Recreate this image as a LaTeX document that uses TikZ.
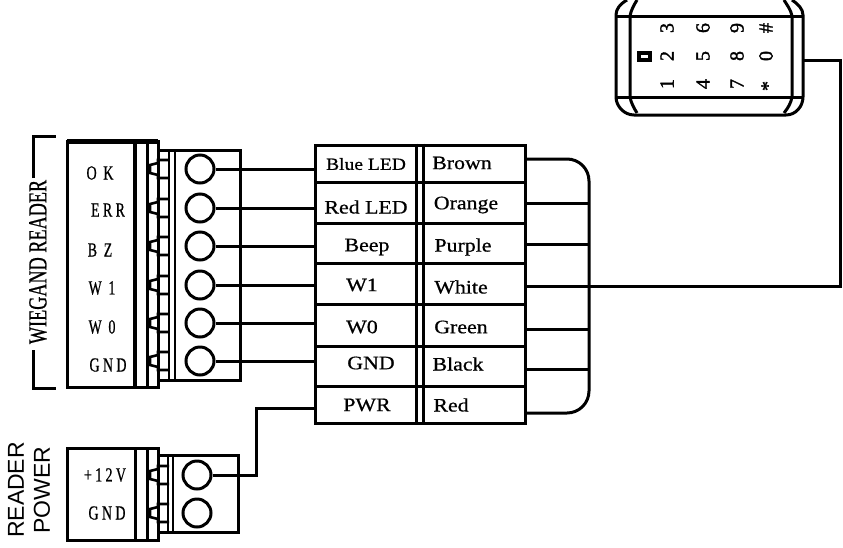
\documentclass[tikz,border=0pt]{standalone}
\usepackage{fontspec}
\setmainfont{Liberation Serif}
\newfontfamily\tablefont[FakeStretch=1.15, FakeBold=0.7]{Liberation Serif}
\newfontfamily\narrowfont[FakeStretch=0.7, FakeBold=0.6]{Liberation Serif}
\newfontfamily\keyfont[FakeBold=1.5]{Liberation Serif}
\newfontfamily\powerfont{Liberation Sans}
\usetikzlibrary{calc}
\tikzset{
	wire/.style={line width=3pt},
	frame/.style={line width=3pt},
	termcircle/.style={circle, draw, line width=3pt, minimum size=28pt, inner sep=0pt},
	celltext/.style={font=\tablefont\fontsize{19}{19}\selectfont, inner sep=0pt},
	pintext/.style={font=\narrowfont\fontsize{20}{20}\selectfont, inner sep=0pt},
	keytext/.style={font=\keyfont\fontsize{20}{20}\selectfont, inner sep=0pt, rotate=90}
}
\def\pintooth(#1){\draw[line width=2.6pt, shift={(0,#1)}] (169, -9) -- (158, -9) -- (158, -6) -- (150, -4) -- (150, 4) -- (158, 6) -- (158, 9) -- (169, 9);}

\begin{document}
\begin{tikzpicture}[x=1pt, y=-1pt]
	%%%%% START %%%%%
	\useasboundingbox (0, 0) rectangle (843, 547);
	\clip (0, 0) rectangle (843, 547);

	% wiegand connector
	\draw[frame] (67, 141) rectangle (158, 387);
	\draw[line width=5pt] (67, 141) -- (158, 141);
	\draw[line width=4.5pt] (135, 141) -- (135, 387);
	\draw[frame] (147, 141) -- (147, 387);
	\draw[frame] (158, 150) -- (240, 150) -- (240, 380) -- (158, 380);
	\draw[line width=2.5pt] (169, 150) -- (169, 380);
	\draw[line width=2.5pt] (175, 150) -- (175, 380);
	\pintooth(169) \pintooth(208) \pintooth(246) \pintooth(285) \pintooth(323) \pintooth(361)

	\node[termcircle, fill=white] (okpin) at (200, 169) {};
	\node[termcircle, fill=white] (errpin) at (200, 208) {};
	\node[termcircle, fill=white] (bzpin) at (200, 246) {};
	\node[termcircle, fill=white] (wonepin) at (200, 285) {};
	\node[termcircle, fill=white] (wzeropin) at (200, 323) {};
	\node[termcircle, fill=white] (gndpin) at (200, 361) {};

	\node[pintext] (oklabel) at (100, 173) {O\,\,K};
	\node[pintext] (errlabel) at (108, 210) {E\,R\,R};
	\node[pintext] (bzlabel) at (100, 250) {B\,\,Z};
	\node[pintext] (wonelabel) at (102, 288) {W\,\,1};
	\node[pintext] (wzerolabel) at (102, 327) {W\,\,0};
	\node[pintext] (gndlabel) at (108, 365) {G\,N\,D};

	% bracket
	\node[font=\narrowfont\fontsize{26}{26}\selectfont, rotate=90, inner sep=0pt] (wiegandlabel) at (38, 262) {WIEGAND READER};
	\draw[wire] (33, 178) -- (33, 136) -- (56, 136);
	\draw[wire] (33, 350) -- (33, 388) -- (56, 388);

	% power connector
	\draw[frame] (67, 448) rectangle (158, 540);
	\draw[frame] (135, 448) -- (135, 540);
	\draw[frame] (147, 448) -- (147, 540);
	\draw[frame] (158, 455) -- (238, 455) -- (238, 532) -- (158, 532);
	\draw[line width=2.5pt] (168, 455) -- (168, 532);
	\draw[line width=2.5pt] (173, 455) -- (173, 532);
	\pintooth(475) \pintooth(513)

	\node[termcircle, fill=white] (twelvepin) at (197, 475) {};
	\node[termcircle, fill=white] (groundpin) at (197, 513) {};
	\node[pintext] (twelvelabel) at (105, 475) {+\,1\,2\,V};
	\node[pintext] (groundlabel) at (107, 513) {G\,N\,D};
	\node[font=\powerfont\fontsize{23}{26}\selectfont, rotate=90, align=center, inner sep=0pt] (powerlabel) at (29, 490) {READER\\POWER};

	% table
	\node[draw, frame, minimum width=210pt, minimum height=278pt, inner sep=0pt] (wiretable) at (420, 284) {};
	\draw[frame] (wiretable.north -| 416, 0) -- (wiretable.south -| 416, 0);
	\draw[frame] (wiretable.north -| 423, 0) -- (wiretable.south -| 423, 0);
	\draw[frame] (315, 182) -- (525, 182);
	\draw[frame] (315, 223) -- (525, 223);
	\draw[frame] (315, 263) -- (525, 263);
	\draw[frame] (315, 304) -- (525, 304);
	\draw[frame] (315, 346) -- (525, 346);
	\draw[frame] (315, 386) -- (525, 386);

	\node[celltext, font=\tablefont\fontsize{17}{17}\selectfont] (blueled) at (366, 164) {Blue LED};
	\node[celltext] (redled) at (366, 207) {Red LED};
	\node[celltext] (beep) at (367, 247) {Beep};
	\node[celltext] (wone) at (362, 285) {W1};
	\node[celltext] (wzero) at (362, 327) {W0};
	\node[celltext] (gnd) at (371, 363) {GND};
	\node[celltext] (pwr) at (367, 405) {PWR};

	\node[celltext] (brown) at (462, 163) {Brown};
	\node[celltext] (orange) at (466, 205) {Orange};
	\node[celltext] (purple) at (463, 247) {Purple};
	\node[celltext] (white) at (461, 287) {White};
	\node[celltext] (green) at (461, 327) {Green};
	\node[celltext] (black) at (458, 364) {Black};
	\node[celltext] (red) at (451, 405) {Red};

	% left wires
	\draw[wire] (okpin) -- (okpin -| wiretable.west);
	\draw[wire] (errpin) -- (errpin -| wiretable.west);
	\draw[wire] (bzpin) -- (bzpin -| wiretable.west);
	\draw[wire] (wonepin) -- (wonepin -| wiretable.west);
	\draw[wire] (wzeropin) -- (wzeropin -| wiretable.west);
	\draw[wire] (gndpin) -- (gndpin -| wiretable.west);
	\coordinate (pwrbend) at (256, 408);
	\draw[wire] (twelvepin) -| (pwrbend) -- (pwrbend -| wiretable.west);

	% right wires
	\coordinate (busbrown) at (525, 159);
	\coordinate (busorange) at (525, 203);
	\coordinate (buspurple) at (525, 244);
	\coordinate (buswhite) at (525, 286);
	\coordinate (busgreen) at (525, 329);
	\coordinate (busblack) at (525, 369);
	\coordinate (busred) at (525, 413);
	\coordinate (bustop) at (589, 159);
	\coordinate (busbottom) at (589, 413);
	\draw[wire, rounded corners=22pt] (busbrown) -- (bustop) -- (busbottom) -- (busred);
	\draw[wire] (busorange) -- (busorange -| bustop);
	\draw[wire] (buspurple) -- (buspurple -| bustop);
	\draw[wire] (busgreen) -- (busgreen -| bustop);
	\draw[wire] (busblack) -- (busblack -| bustop);

	% keypad
	\draw[frame] (627, 0) .. controls (620, 4) and (616, 9) .. (616, 15) -- (616, 97) .. controls (616, 106) and (624, 115) .. (634, 115) -- (786, 115) .. controls (796, 115) and (803, 106) .. (803, 97) -- (803, 15) .. controls (803, 9) and (798, 4) .. (792, 0);
	\draw[frame] (616, 16) -- (803, 16);
	\draw[frame] (616, 97) -- (803, 97);
	\draw[frame] (637, 0) .. controls (634, 5) and (631, 10) .. (630, 16) -- (630, 97) .. controls (631, 103) and (634, 108) .. (637, 113);
	\draw[frame] (784, 0) .. controls (787, 5) and (791, 10) .. (792, 16) -- (792, 97) .. controls (791, 103) and (788, 108) .. (784, 113);
	\draw[line width=3.5pt] (639, 53) rectangle (650, 60);

	\node[keytext] (keythree) at (667, 28) {3};
	\node[keytext] (keysix) at (703, 28) {6};
	\node[keytext] (keynine) at (737, 28) {9};
	\node[keytext] (keyhash) at (766, 28) {\#};
	\node[keytext] (keytwo) at (667, 56) {2};
	\node[keytext] (keyfive) at (703, 56) {5};
	\node[keytext] (keyeight) at (737, 56) {8};
	\node[keytext] (keyzero) at (766, 56) {0};
	\node[keytext] (keyone) at (667, 84) {1};
	\node[keytext] (keyfour) at (703, 84) {4};
	\node[keytext] (keyseven) at (737, 84) {7};
	\node[keytext] (keystar) at (768, 86) {*};

	% reader cable
	\coordinate (keyout) at (803, 60);
	\coordinate (keybend) at (840, 60);
	\draw[wire] (buswhite) -| (keybend) -- (keyout);
	%%%%% END %%%%%
\end{tikzpicture}
\end{document}
